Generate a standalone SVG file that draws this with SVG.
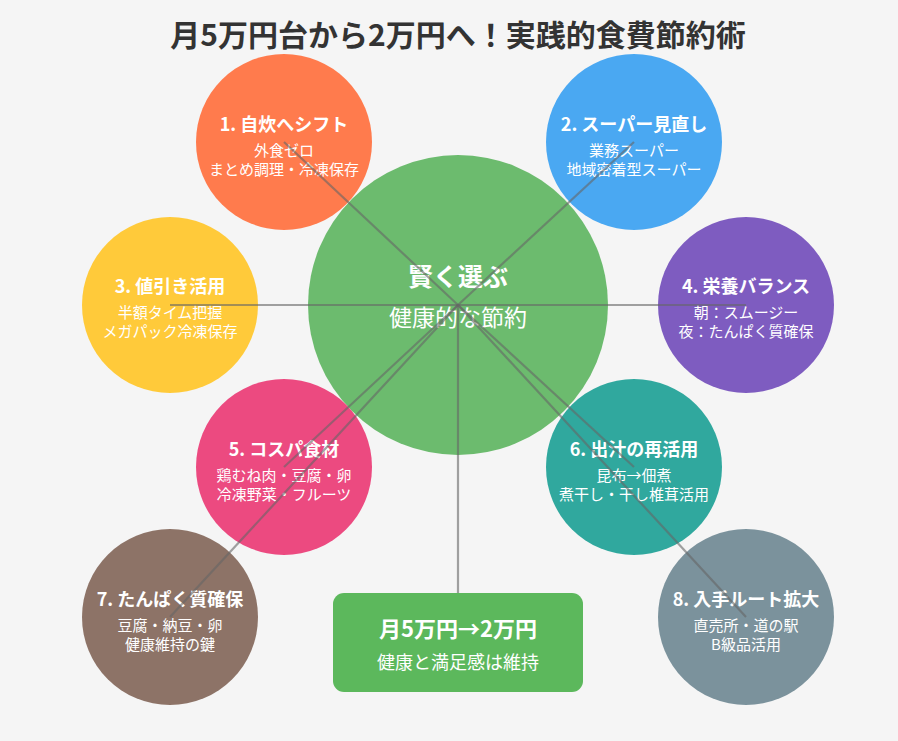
<svg xmlns="http://www.w3.org/2000/svg" width="898" height="741" viewBox="0 0 898 741">
<style>
text{font-family:"Noto Sans CJK JP","Noto Sans",sans-serif;text-anchor:middle;fill:#fff}
.title{font-size:30px;font-weight:bold;fill:#333}
.nt{font-size:18px;font-weight:bold}
.ns{font-size:15px}
.ct{font-size:25px;font-weight:bold}
.cs{font-size:23px}
.bt{font-size:22px;font-weight:bold}
.bs{font-size:18px}
.conn line{stroke:#666;stroke-width:2.2;stroke-opacity:0.6}
</style>
<rect width="898" height="741" fill="#f5f5f5"/>
<text class="title" x="458" y="46">月5万円台から2万円へ！実践的食費節約術</text>
<g id="center">
<circle cx="458" cy="305" r="150" fill="#6cbb6e"/>
<text class="ct" x="458" y="286">賢く選ぶ</text>
<text class="cs" x="458" y="326">健康的な節約</text>
</g>
<g id="node1">
<circle cx="284" cy="142" r="88" fill="#ff7b4d"/>
<text class="nt" x="284" y="131">1. 自炊へシフト</text>
<text class="ns" x="284" y="156">外食ゼロ</text>
<text class="ns" x="284" y="175">まとめ調理・冷凍保存</text>
</g>
<g id="node2">
<circle cx="634" cy="142" r="88" fill="#4aa8f2"/>
<text class="nt" x="634" y="131">2. スーパー見直し</text>
<text class="ns" x="634" y="156">業務スーパー</text>
<text class="ns" x="634" y="175">地域密着型スーパー</text>
</g>
<g id="node3">
<circle cx="170" cy="305" r="88" fill="#ffca3a"/>
<text class="nt" x="170" y="293">3. 値引き活用</text>
<text class="ns" x="170" y="318">半額タイム把握</text>
<text class="ns" x="170" y="337">メガパック冷凍保存</text>
</g>
<g id="node4">
<circle cx="746" cy="305" r="88" fill="#7e5cc0"/>
<text class="nt" x="746" y="293">4. 栄養バランス</text>
<text class="ns" x="746" y="318">朝：スムージー</text>
<text class="ns" x="746" y="337">夜：たんぱく質確保</text>
</g>
<g id="node5">
<circle cx="284" cy="467" r="88" fill="#ec4a80"/>
<text class="nt" x="284" y="456">5. コスパ食材</text>
<text class="ns" x="284" y="481">鶏むね肉・豆腐・卵</text>
<text class="ns" x="284" y="500">冷凍野菜・フルーツ</text>
</g>
<g id="node6">
<circle cx="634" cy="467" r="88" fill="#30a89e"/>
<text class="nt" x="634" y="456">6. 出汁の再活用</text>
<text class="ns" x="634" y="481">昆布→佃煮</text>
<text class="ns" x="634" y="500">煮干し・干し椎茸活用</text>
</g>
<g id="node7">
<circle cx="170" cy="617" r="88" fill="#8d7367"/>
<text class="nt" x="170" y="606">7. たんぱく質確保</text>
<text class="ns" x="170" y="631">豆腐・納豆・卵</text>
<text class="ns" x="170" y="650">健康維持の鍵</text>
</g>
<g id="node8">
<circle cx="746" cy="617" r="88" fill="#7b929c"/>
<text class="nt" x="746" y="606">8. 入手ルート拡大</text>
<text class="ns" x="746" y="631">直売所・道の駅</text>
<text class="ns" x="746" y="650">B級品活用</text>
</g>
<g id="result">
<rect x="333" y="593" width="250" height="99" rx="11" fill="#5cb85c"/>
<text class="bt" x="458" y="637">月5万円→2万円</text>
<text class="bs" x="458" y="669">健康と満足感は維持</text>
</g>
<g class="conn" id="connectors">
<line x1="458" y1="305" x2="284" y2="142"/>
<line x1="458" y1="305" x2="634" y2="142"/>
<line x1="458" y1="305" x2="170" y2="305"/>
<line x1="458" y1="305" x2="746" y2="305"/>
<line x1="458" y1="305" x2="284" y2="467"/>
<line x1="458" y1="305" x2="634" y2="467"/>
<line x1="458" y1="305" x2="170" y2="617"/>
<line x1="458" y1="305" x2="746" y2="617"/>
<line x1="458" y1="305" x2="458" y2="593"/>
</g>
</svg>
